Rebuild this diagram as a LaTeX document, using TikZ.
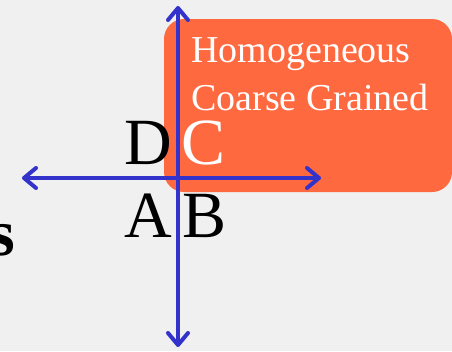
\documentclass[tikz,border=0pt]{standalone}
\usepackage{fontspec}
\setmainfont{Liberation Serif}
\usetikzlibrary{arrows.meta}
\definecolor{bggray}{RGB}{240,240,240}
\definecolor{boxorange}{RGB}{255,105,64}
\definecolor{axisblue}{RGB}{51,51,204}
\tikzstyle{region} = [rectangle, rounded corners=20pt, minimum width=288pt, minimum height=173pt, draw=none, fill=boxorange, inner sep=0pt]
\tikzstyle{boxtext} = [text=white, align=left, inner sep=0pt, font=\fontsize{38}{48.5}\selectfont]
\tikzstyle{letter} = [inner sep=0pt, anchor=base west, font=\fontsize{66}{66}\selectfont]
\tikzstyle{arrow} = [line width=4pt, color=axisblue, line cap=round, {Straight Barb[length=12pt,width=20pt,line cap=round,line join=round]}-{Straight Barb[length=12pt,width=20pt,line cap=round,line join=round]}]

\begin{document}
\begin{tikzpicture}[x=1pt, y=-1pt]

    % Background
    \useasboundingbox [fill=bggray] (0,0) rectangle (452,351);

    % Nodes
    \node (box) [region] at (308,105.5) {};
    \node (label) [boxtext, anchor=north west] at (191,37) {Homogeneous\\Coarse Grained};
    \node (d) [letter] at (124,164) {D};
    \node (c) [letter, text=white] at (181,164) {C};
    \node (a) [letter] at (124,237) {A};
    \node (b) [letter] at (182,237) {B};
    \node (s) [letter, font=\fontsize{66}{66}\selectfont\bfseries] at (-11,255) {s};

    % Axes
    \coordinate (top) at (178,6);
    \coordinate (bottom) at (178,347);
    \coordinate (left) at (22,178);
    \coordinate (right) at (321,178);
    \draw [arrow] (top) -- (bottom);
    \draw [arrow] (left) -- (right);

\end{tikzpicture}
\end{document}
